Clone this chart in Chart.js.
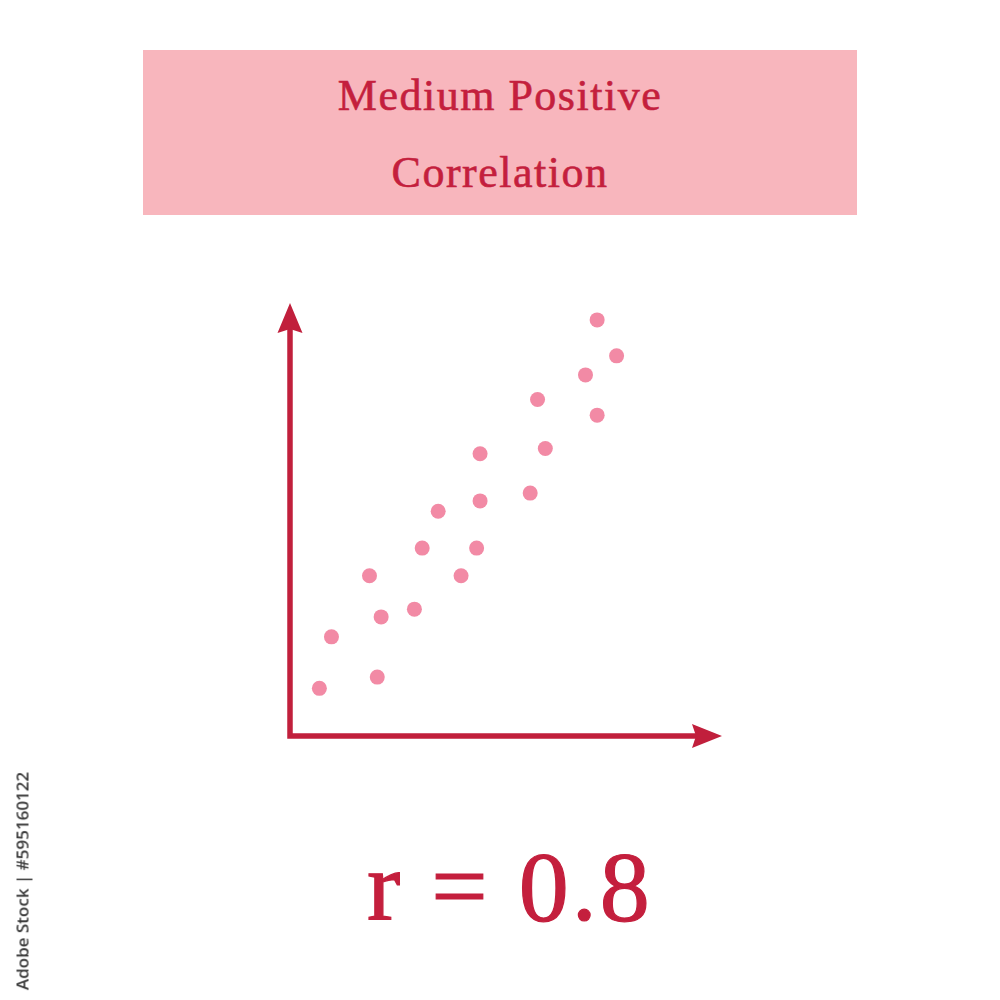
<!DOCTYPE html>
<html>
<head>
<meta charset="utf-8">
<script src="https://cdn.jsdelivr.net/npm/chart.js@4.4.0/dist/chart.umd.min.js"></script>
<style>
  html, body { margin: 0; padding: 0; background: #fff; }
  #wrap { position: relative; width: 1000px; height: 1000px; overflow: hidden; }
  #box {
    position: absolute; left: 143px; top: 50px; width: 714px; height: 165px;
    background: #f8b6bd;
  }
  .t {
    position: absolute; white-space: nowrap; line-height: 1;
    font-family: "Liberation Serif", "DejaVu Serif", serif; color: #c41f3d;
  }
  #t1, #t2 {
    left: 0; width: 1000px; text-align: center; font-size: 44px; letter-spacing: 1.5px;
    -webkit-text-stroke: 0.6px #c41f3d;
  }
  #t1 { top: 74px; }
  #t2 { top: 151px; }
  #r { left: 367px; top: 837px; font-size: 100px; letter-spacing: 3px; -webkit-text-stroke: 1.2px #c41f3d; }
  #stock {
    position: absolute; left: 22px; top: 881px; transform: translate(-50%, -50%) rotate(-90deg);
    font-family: "Open Sans", "DejaVu Sans", sans-serif; font-weight: 600; font-size: 17px;
    color: #3a3a3a; white-space: nowrap;
  }
  #c { position: absolute; left: 0; top: 0; width: 1000px; height: 1000px; }
</style>
</head>
<body>
<div id="wrap">
  <div id="box"></div>
  <div class="t" id="t1">Medium Positive</div>
  <div class="t" id="t2">Correlation</div>
  <div id="c"><canvas id="chart"></canvas></div>
  <div class="t" id="r">r = 0.8</div>
  <div id="stock">Adobe Stock | #595160122</div>
</div>
<script>
// values, axes run 0..100
const xValues = [6.8, 9.6, 20.2, 21.1, 18.4, 28.8, 30.6, 34.3, 39.6, 43.2,
                 44.0, 44.0, 55.6, 59.1, 57.3, 68.4, 71.1, 71.1, 75.6];
const yValues = [11.0, 22.9, 13.6, 27.5, 37.0, 29.3, 43.4, 51.9, 37.0, 43.4,
                 54.3, 65.2, 56.1, 66.4, 77.7, 83.4, 74.1, 96.1, 87.8];

const points = xValues.map((x, i) => ({ x: x, y: yValues[i] }));

const axisColor = '#c11f3c';

// draws the two arrowed axes
const arrowAxes = {
    id: 'arrowAxes',
    afterDatasetsDraw(chart) {
        const ctx = chart.ctx;
        const sx = chart.scales.x, sy = chart.scales.y;
        const x0 = sx.getPixelForValue(0), y0 = sy.getPixelForValue(0);
        const xEnd = sx.getPixelForValue(100), yEnd = sy.getPixelForValue(100);
        ctx.save();
        ctx.strokeStyle = axisColor;
        ctx.fillStyle = axisColor;
        ctx.lineWidth = 5.5;
        ctx.beginPath();
        ctx.moveTo(x0, yEnd + 20);
        ctx.lineTo(x0, y0);
        ctx.lineTo(xEnd - 20, y0);
        ctx.stroke();
        // up arrow
        ctx.beginPath();
        ctx.moveTo(x0, yEnd);
        ctx.lineTo(x0 - 12.5, yEnd + 30);
        ctx.lineTo(x0, yEnd + 26);
        ctx.lineTo(x0 + 12.5, yEnd + 30);
        ctx.closePath();
        ctx.fill();
        // right arrow
        ctx.beginPath();
        ctx.moveTo(xEnd, y0);
        ctx.lineTo(xEnd - 30, y0 - 12);
        ctx.lineTo(xEnd - 26, y0);
        ctx.lineTo(xEnd - 30, y0 + 12);
        ctx.closePath();
        ctx.fill();
        ctx.restore();
    }
};

new Chart(document.getElementById('chart'), {
    type: 'scatter',
    data: {
        datasets: [{
            data: points,
            backgroundColor: '#f28aa5',
            borderWidth: 0,
            pointRadius: 7.5,
            pointHoverRadius: 7.5
        }]
    },
    options: {
        responsive: true,
        maintainAspectRatio: false,
        animation: false,
        layout: { padding: { left: 290, top: 303, right: 278, bottom: 264 } },
        plugins: { legend: { display: false }, tooltip: { enabled: false } },
        scales: {
            x: { display: false, min: 0, max: 100 },
            y: { display: false, min: 0, max: 100 }
        }
    },
    plugins: [arrowAxes]
});
</script>
</body>
</html>
